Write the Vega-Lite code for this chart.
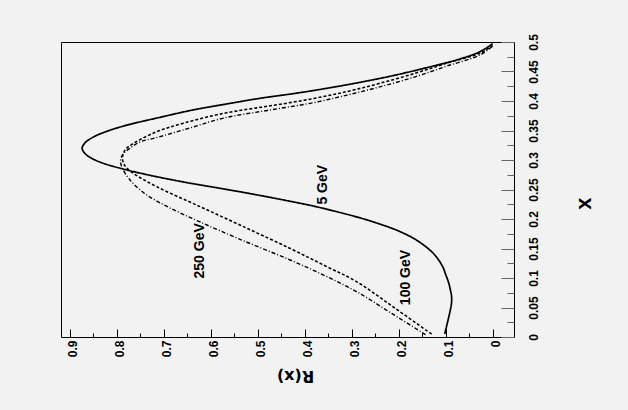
{
  "$schema": "https://vega.github.io/schema/vega-lite/v6.json",
  "width": 453,
  "height": 295,
  "autosize": {"type": "none"},
  "padding": {"left": 61, "top": 42, "right": 114, "bottom": 73},
  "background": "#f2f2f2",
  "config": {"view": {"stroke": "black", "strokeWidth": 1, "fill": "#f2f2f2"}},
  "datasets": {
    "curves": [
      {"energy": "5 GeV", "x": 0.005, "R": 0.102},
      {"energy": "5 GeV", "x": 0.025, "R": 0.096},
      {"energy": "5 GeV", "x": 0.046, "R": 0.090},
      {"energy": "5 GeV", "x": 0.058, "R": 0.0875},
      {"energy": "5 GeV", "x": 0.07, "R": 0.0875},
      {"energy": "5 GeV", "x": 0.08, "R": 0.090},
      {"energy": "5 GeV", "x": 0.093, "R": 0.094},
      {"energy": "5 GeV", "x": 0.105, "R": 0.0995},
      {"energy": "5 GeV", "x": 0.117, "R": 0.105},
      {"energy": "5 GeV", "x": 0.127, "R": 0.112},
      {"energy": "5 GeV", "x": 0.136, "R": 0.12},
      {"energy": "5 GeV", "x": 0.144, "R": 0.129},
      {"energy": "5 GeV", "x": 0.151, "R": 0.139},
      {"energy": "5 GeV", "x": 0.158, "R": 0.1505},
      {"energy": "5 GeV", "x": 0.168, "R": 0.170},
      {"energy": "5 GeV", "x": 0.181, "R": 0.204},
      {"energy": "5 GeV", "x": 0.19, "R": 0.235},
      {"energy": "5 GeV", "x": 0.2, "R": 0.274},
      {"energy": "5 GeV", "x": 0.211, "R": 0.325},
      {"energy": "5 GeV", "x": 0.222, "R": 0.382},
      {"energy": "5 GeV", "x": 0.233, "R": 0.45},
      {"energy": "5 GeV", "x": 0.244, "R": 0.523},
      {"energy": "5 GeV", "x": 0.254, "R": 0.595},
      {"energy": "5 GeV", "x": 0.263, "R": 0.66},
      {"energy": "5 GeV", "x": 0.275, "R": 0.735},
      {"energy": "5 GeV", "x": 0.286, "R": 0.793},
      {"energy": "5 GeV", "x": 0.295, "R": 0.831},
      {"energy": "5 GeV", "x": 0.303, "R": 0.854},
      {"energy": "5 GeV", "x": 0.311, "R": 0.868},
      {"energy": "5 GeV", "x": 0.32, "R": 0.874},
      {"energy": "5 GeV", "x": 0.329, "R": 0.868},
      {"energy": "5 GeV", "x": 0.339, "R": 0.850},
      {"energy": "5 GeV", "x": 0.349, "R": 0.82},
      {"energy": "5 GeV", "x": 0.359, "R": 0.779},
      {"energy": "5 GeV", "x": 0.372, "R": 0.71},
      {"energy": "5 GeV", "x": 0.385, "R": 0.637},
      {"energy": "5 GeV", "x": 0.395, "R": 0.566},
      {"energy": "5 GeV", "x": 0.4046, "R": 0.495},
      {"energy": "5 GeV", "x": 0.413, "R": 0.42},
      {"energy": "5 GeV", "x": 0.4215, "R": 0.353},
      {"energy": "5 GeV", "x": 0.432, "R": 0.28},
      {"energy": "5 GeV", "x": 0.443, "R": 0.212},
      {"energy": "5 GeV", "x": 0.457, "R": 0.138},
      {"energy": "5 GeV", "x": 0.4712, "R": 0.070},
      {"energy": "5 GeV", "x": 0.4836, "R": 0.027},
      {"energy": "5 GeV", "x": 0.497, "R": 0.0},
      {"energy": "100 GeV", "x": 0.005, "R": 0.13},
      {"energy": "100 GeV", "x": 0.05, "R": 0.21},
      {"energy": "100 GeV", "x": 0.094, "R": 0.290},
      {"energy": "100 GeV", "x": 0.12, "R": 0.355},
      {"energy": "100 GeV", "x": 0.15, "R": 0.431},
      {"energy": "100 GeV", "x": 0.185, "R": 0.525},
      {"energy": "100 GeV", "x": 0.221, "R": 0.623},
      {"energy": "100 GeV", "x": 0.2547, "R": 0.715},
      {"energy": "100 GeV", "x": 0.2775, "R": 0.765},
      {"energy": "100 GeV", "x": 0.2915, "R": 0.784},
      {"energy": "100 GeV", "x": 0.305, "R": 0.788},
      {"energy": "100 GeV", "x": 0.3175, "R": 0.782},
      {"energy": "100 GeV", "x": 0.328, "R": 0.765},
      {"energy": "100 GeV", "x": 0.348, "R": 0.715},
      {"energy": "100 GeV", "x": 0.362, "R": 0.66},
      {"energy": "100 GeV", "x": 0.379, "R": 0.573},
      {"energy": "100 GeV", "x": 0.391, "R": 0.48},
      {"energy": "100 GeV", "x": 0.403, "R": 0.389},
      {"energy": "100 GeV", "x": 0.416, "R": 0.31},
      {"energy": "100 GeV", "x": 0.43, "R": 0.24},
      {"energy": "100 GeV", "x": 0.447, "R": 0.165},
      {"energy": "100 GeV", "x": 0.464, "R": 0.098},
      {"energy": "100 GeV", "x": 0.481, "R": 0.027},
      {"energy": "100 GeV", "x": 0.494, "R": 0.0},
      {"energy": "250 GeV", "x": 0.004, "R": 0.143},
      {"energy": "250 GeV", "x": 0.04, "R": 0.215},
      {"energy": "250 GeV", "x": 0.077, "R": 0.290},
      {"energy": "250 GeV", "x": 0.105, "R": 0.36},
      {"energy": "250 GeV", "x": 0.1305, "R": 0.431},
      {"energy": "250 GeV", "x": 0.163, "R": 0.53},
      {"energy": "250 GeV", "x": 0.195, "R": 0.623},
      {"energy": "250 GeV", "x": 0.22, "R": 0.69},
      {"energy": "250 GeV", "x": 0.241, "R": 0.737},
      {"energy": "250 GeV", "x": 0.266, "R": 0.772},
      {"energy": "250 GeV", "x": 0.289, "R": 0.79},
      {"energy": "250 GeV", "x": 0.3, "R": 0.792},
      {"energy": "250 GeV", "x": 0.31, "R": 0.787},
      {"energy": "250 GeV", "x": 0.32, "R": 0.772},
      {"energy": "250 GeV", "x": 0.331, "R": 0.75},
      {"energy": "250 GeV", "x": 0.337, "R": 0.72},
      {"energy": "250 GeV", "x": 0.353, "R": 0.65},
      {"energy": "250 GeV", "x": 0.371, "R": 0.573},
      {"energy": "250 GeV", "x": 0.384, "R": 0.48},
      {"energy": "250 GeV", "x": 0.396, "R": 0.389},
      {"energy": "250 GeV", "x": 0.41, "R": 0.31},
      {"energy": "250 GeV", "x": 0.424, "R": 0.24},
      {"energy": "250 GeV", "x": 0.441, "R": 0.165},
      {"energy": "250 GeV", "x": 0.459, "R": 0.098},
      {"energy": "250 GeV", "x": 0.478, "R": 0.027},
      {"energy": "250 GeV", "x": 0.493, "R": 0.0}
    ],
    "labels": [
      {"label": "5 GeV", "R": 0.361, "x": 0.258},
      {"label": "100 GeV", "R": 0.1846, "x": 0.1008},
      {"label": "250 GeV", "R": 0.623, "x": 0.146}
    ]
  },
  "resolve": {"axis": {"x": "independent", "y": "independent"}},
  "layer": [
    {
      "data": {"name": "curves"},
      "mark": {"type": "line", "color": "black", "interpolate": "catmull-rom"},
      "encoding": {
        "x": {
          "field": "R", "type": "quantitative",
          "scale": {"domain": [-0.0455, 0.919], "reverse": true, "nice": false, "zero": false},
          "axis": {
            "orient": "bottom",
            "values": [0, 0.1, 0.2, 0.3, 0.4, 0.5, 0.6, 0.7, 0.8, 0.9],
            "labelExpr": "format(datum.value,'~g')",
            "ticks": false,
            "grid": true,
            "gridColor": "#000000",
            "gridOpacity": 1,
            "gridWidth": 1,
            "gridDash": [8, 1000],
            "gridDashOffset": 721,
            "domain": false,
            "labelAngle": 270,
            "labelAlign": "right",
            "labelBaseline": "middle",
            "labelPadding": 3,
            "labelOffset": 3,
            "labelFlush": false,
            "labelOverlap": false,
            "labelFont": "'Liberation Sans Narrow', 'Liberation Sans', sans-serif",
            "labelFontWeight": "bold",
            "labelFontSize": 12,
            "labelColor": "black",
            "title": "R(x)",
            "titleFont": "'DejaVu Sans', sans-serif",
            "titleFontWeight": "bold",
            "titleFontSize": 16,
            "titleColor": "black",
            "titleAngle": 180,
            "titleAlign": "center",
            "titleBaseline": "middle",
            "titleX": 234,
            "titleY": 38
          }
        },
        "y": {
          "field": "x", "type": "quantitative",
          "scale": {"domain": [0, 0.5], "nice": false, "zero": false},
          "axis": {
            "orient": "right",
            "values": [0, 0.05, 0.1, 0.15, 0.2, 0.25, 0.3, 0.35, 0.4, 0.45, 0.5],
            "labelExpr": "format(datum.value,'~g')",
            "ticks": false,
            "grid": true,
            "gridColor": "#666666",
            "gridOpacity": 1,
            "gridWidth": 1,
            "gridDash": [13, 1000],
            "gridDashOffset": 573,
            "domain": false,
            "labelAngle": 270,
            "labelAlign": "center",
            "labelBaseline": "top",
            "labelPadding": 14,
            "labelFlush": false,
            "labelOverlap": false,
            "labelFont": "'Liberation Sans Narrow', 'Liberation Sans', sans-serif",
            "labelFontWeight": "bold",
            "labelFontSize": 12,
            "labelColor": "black",
            "title": "x",
            "titleFont": "'Liberation Sans Narrow', 'Liberation Sans', sans-serif",
            "titleFontWeight": "bold",
            "titleFontSize": 22,
            "titleColor": "black",
            "titleAngle": 270,
            "titleAlign": "center",
            "titleBaseline": "middle",
            "titleX": 69,
            "titleY": 161
          }
        },
        "order": {"field": "x", "type": "quantitative"},
        "strokeDash": {
          "field": "energy", "type": "nominal",
          "scale": {"domain": ["5 GeV", "100 GeV", "250 GeV"], "range": [[1, 0], [3, 2], [4, 2, 1, 2]]},
          "legend": null
        },
        "strokeWidth": {
          "field": "energy", "type": "nominal",
          "scale": {"domain": ["5 GeV", "100 GeV", "250 GeV"], "range": [1.7, 1.4, 1.4]},
          "legend": null
        }
      }
    },
    {
      "data": {"name": "labels"},
      "mark": {"type": "text", "angle": 270, "align": "center", "baseline": "middle", "font": "'Liberation Sans Narrow', 'Liberation Sans', sans-serif", "fontWeight": "bold", "fontSize": 14, "color": "black"},
      "encoding": {
        "x": {
          "field": "R", "type": "quantitative",
          "scale": {"domain": [-0.0455, 0.919], "reverse": true, "nice": false, "zero": false},
          "axis": {
            "orient": "bottom",
            "values": [0.05, 0.15, 0.25, 0.35, 0.45, 0.55, 0.65, 0.75, 0.85],
            "labels": false,
            "domain": false,
            "ticks": false,
            "grid": true,
            "gridColor": "#000000",
            "gridOpacity": 1,
            "gridWidth": 1,
            "gridDash": [4, 1000],
            "gridDashOffset": 713,
            "title": null
          }
        },
        "y": {
          "field": "x", "type": "quantitative",
          "scale": {"domain": [0, 0.5], "nice": false, "zero": false},
          "axis": {
            "orient": "right",
            "values": [0.025, 0.075, 0.125, 0.175, 0.225, 0.275, 0.325, 0.375, 0.425, 0.475],
            "labels": false,
            "domain": false,
            "ticks": false,
            "grid": true,
            "gridColor": "#666666",
            "gridOpacity": 1,
            "gridWidth": 1,
            "gridDash": [7, 1000],
            "gridDashOffset": 561,
            "title": null
          }
        },
        "text": {"field": "label", "type": "nominal"}
      }
    }
  ]
}
